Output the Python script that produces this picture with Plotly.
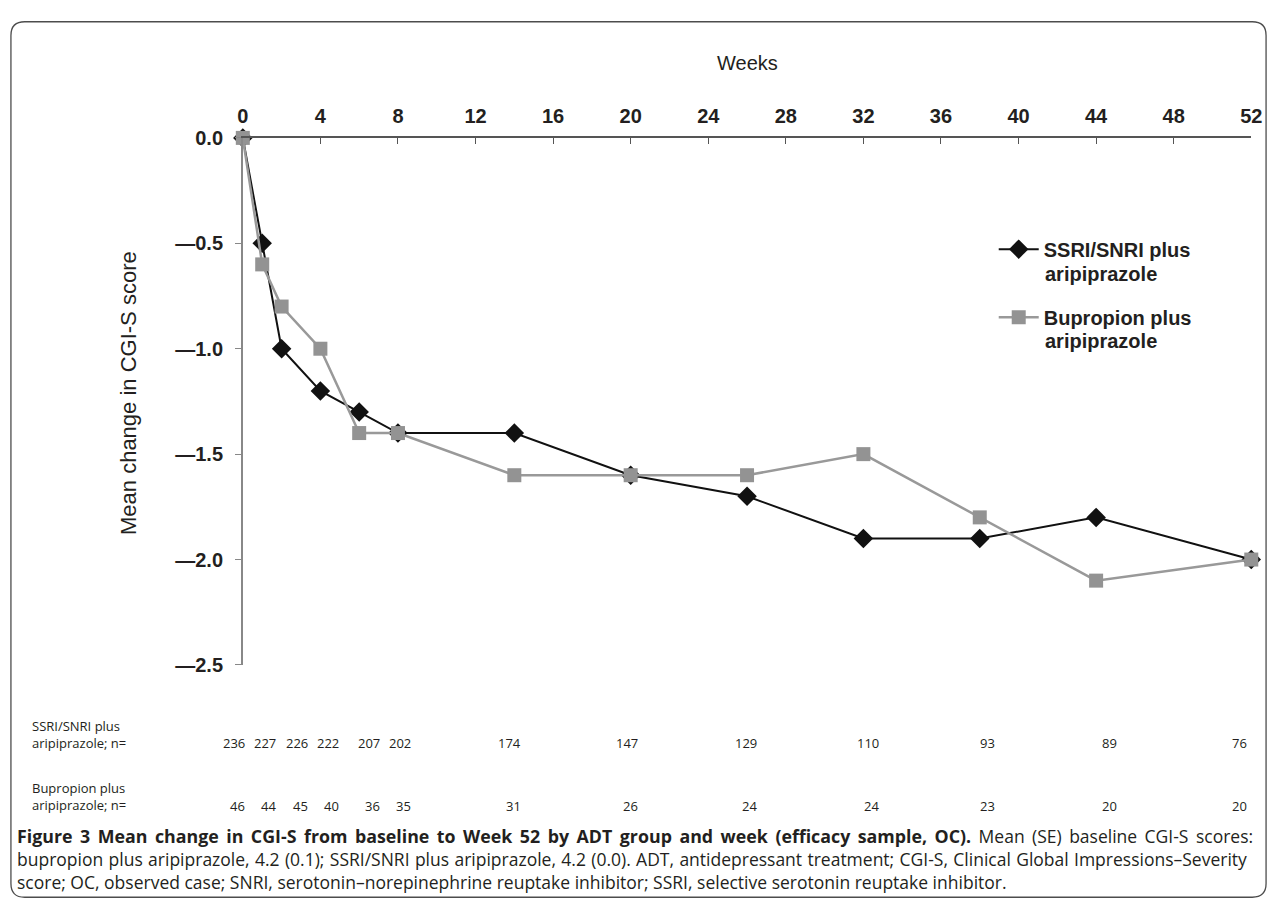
import plotly.graph_objects as go

# ---------------- data ----------------
weeks = [0, 1, 2, 4, 6, 8, 14, 20, 26, 32, 38, 44, 52]
ssri_change = [0.0, -0.5, -1.0, -1.2, -1.3, -1.4, -1.4, -1.6, -1.7, -1.9, -1.9, -1.8, -2.0]
bup_change = [0.0, -0.6, -0.8, -1.0, -1.4, -1.4, -1.6, -1.6, -1.6, -1.5, -1.8, -2.1, -2.0]
ssri_n = [236, 227, 226, 222, 207, 202, 174, 147, 129, 110, 93, 89, 76]
bup_n = [46, 44, 45, 40, 36, 35, 31, 26, 24, 24, 23, 20, 20]
x_ticks = list(range(0, 53, 4))
y_ticks = [0.0, -0.5, -1.0, -1.5, -2.0, -2.5]
y_ticktext = ["0.0", "\u20140.5", "\u20141.0", "\u20141.5", "\u20142.0", "\u20142.5"]
ssri_name = ["SSRI/SNRI plus", "aripiprazole"]
bup_name = ["Bupropion plus", "aripiprazole"]
ssri_row_label = "SSRI/SNRI plus<br>aripiprazole; n="
bup_row_label = "Bupropion plus<br>aripiprazole; n="
caption_bold = "Figure 3 Mean change in CGI-S from baseline to Week 52 by ADT group and week (efficacy sample, OC)."
caption_lines = [
    " Mean (SE) baseline CGI-S scores:",
    "bupropion plus aripiprazole, 4.2 (0.1); SSRI/SNRI plus aripiprazole, 4.2 (0.0). ADT, antidepressant treatment; CGI-S, Clinical Global Impressions\u2013Severity",
    "score; OC, observed case; SNRI, serotonin\u2013norepinephrine reuptake inhibitor; SSRI, selective serotonin reuptake inhibitor.",
]

# ---------------- layout helpers ----------------
W, H = 1282, 919
def px(x):
    return x / W
def py(y):
    return 1 - y / H

# right-edge positions (week units) of the n= table columns
n_col_pos = [0.2, 1.83, 3.46, 5.04, 7.18, 8.8, 14.45, 20.46, 26.6, 32.9, 38.9, 45.2, 51.9]

DARK = "#231f20"
AXFONT = "Liberation Sans, Arial, sans-serif"
CAPFONT = "Open Sans, Noto Sans, sans-serif"

fig = go.Figure()
fig.add_trace(go.Scatter(
    x=weeks, y=ssri_change, name=ssri_name[0], mode="lines+markers",
    line=dict(color="#111111", width=2),
    marker=dict(symbol="diamond", size=15, color="#111111"),
    cliponaxis=False, legendgroup="a",
))
fig.add_trace(go.Scatter(
    x=weeks, y=bup_change, name=bup_name[0], mode="lines+markers",
    line=dict(color="#999999", width=2.5),
    marker=dict(symbol="square", size=14, color="#939393"),
    cliponaxis=False, legendgroup="b",
))

ann = []
ann.append(dict(x=px(751), y=py(53), xref="paper", yref="paper", text="Weeks",
                showarrow=False, font=dict(family=AXFONT, size=20, color=DARK),
                xanchor="center", yanchor="middle"))
ann.append(dict(x=px(124), y=py(391), xref="paper", yref="paper",
                text="Mean change in CGI-S score", textangle=-90,
                showarrow=False, font=dict(family=AXFONT, size=22, color=DARK),
                xanchor="center", yanchor="middle"))
# second lines of the legend entries
for txt, yy in [(ssri_name[1], 269), (bup_name[1], 338)]:
    ann.append(dict(x=px(1051), y=py(yy), xref="paper", yref="paper", text=txt,
                    showarrow=False, xanchor="left", yanchor="middle",
                    font=dict(family=AXFONT, size=20, color=DARK, weight="bold")))
ann.append(dict(x=px(24), y=py(741), xref="paper", yref="paper", text=ssri_row_label,
                showarrow=False, align="left", xanchor="left", yanchor="middle",
                font=dict(family=CAPFONT, size=13, color=DARK)))
ann.append(dict(x=px(24), y=py(805), xref="paper", yref="paper", text=bup_row_label,
                showarrow=False, align="left", xanchor="left", yanchor="middle",
                font=dict(family=CAPFONT, size=13, color=DARK)))
for xp, a, b in zip(n_col_pos, ssri_n, bup_n):
    ann.append(dict(x=xp, y=py(750), xref="x", yref="paper", text=str(a),
                    showarrow=False, xanchor="right", yanchor="middle",
                    font=dict(family=CAPFONT, size=13, color=DARK)))
    ann.append(dict(x=xp, y=py(814), xref="x", yref="paper", text=str(b),
                    showarrow=False, xanchor="right", yanchor="middle",
                    font=dict(family=CAPFONT, size=13, color=DARK)))
caption_texts = [
    f"<span style='word-spacing:2.9px'><b><span style='font-size:17.8px'>{caption_bold}</span></b>{caption_lines[0]}</span>",
    f"<span style='word-spacing:0.8px'>{caption_lines[1]}</span>",
    caption_lines[2],
]
for i, line in enumerate(caption_texts):
    ann.append(dict(x=px(10), y=py(845 + 23.5 * i), xref="paper", yref="paper", text=line,
                    showarrow=False, xanchor="left", yanchor="middle", align="left",
                    borderpad=0,
                    font=dict(family=CAPFONT, size=17.5, color=DARK)))

# rounded border
x0, x1, y0, y1, r = px(5), px(1277), py(11), py(908), 14
rx, ry = r / W, r / H
border_path = (
    f"M {x0+rx},{y0} L {x1-rx},{y0} Q {x1},{y0} {x1},{y0-ry} "
    f"L {x1},{y1+ry} Q {x1},{y1} {x1-rx},{y1} "
    f"L {x0+rx},{y1} Q {x0},{y1} {x0},{y1+ry} "
    f"L {x0},{y0-ry} Q {x0},{y0} {x0+rx},{y0} Z"
)

fig.update_layout(
    width=W, height=H,
    margin=dict(l=0, r=0, t=0, b=0),
    paper_bgcolor="white", plot_bgcolor="white",
    annotations=ann,
    shapes=[dict(type="path", path=border_path, xref="paper", yref="paper",
                 line=dict(color="#4d4d4d", width=1.3), layer="below")],
    showlegend=True,
    legend=dict(x=px(1001), y=py(224), xanchor="left", yanchor="top",
                bgcolor="rgba(0,0,0,0)", valign="middle", tracegroupgap=39,
                font=dict(family=AXFONT, size=20, color=DARK, weight="bold"),
                itemwidth=40),
    xaxis=dict(
        domain=[px(240), px(1262)], range=[0, 52], side="top",
        tickmode="array", tickvals=x_ticks, ticks="inside", ticklen=6,
        tickcolor="#555555", showline=True, linecolor="#555555", linewidth=1.5,
        showgrid=False, zeroline=False, ticklabelstandoff=5,
        tickfont=dict(family=AXFONT, size=20, color=DARK, weight="bold"),
        anchor="y",
    ),
    yaxis=dict(
        domain=[py(670), py(130)], range=[-2.5, 0],
        tickmode="array", tickvals=y_ticks, ticktext=y_ticktext,
        ticks="outside", ticklen=6, tickcolor="#888888",
        showline=True, linecolor="#888888", linewidth=1.5,
        showgrid=False, zeroline=False, ticklabelstandoff=8,
        tickfont=dict(family=AXFONT, size=20, color=DARK, weight="bold"),
    ),
)

fig.write_html("out.html", config={"displayModeBar": False},
               post_script="document.body.style.margin='0';")
